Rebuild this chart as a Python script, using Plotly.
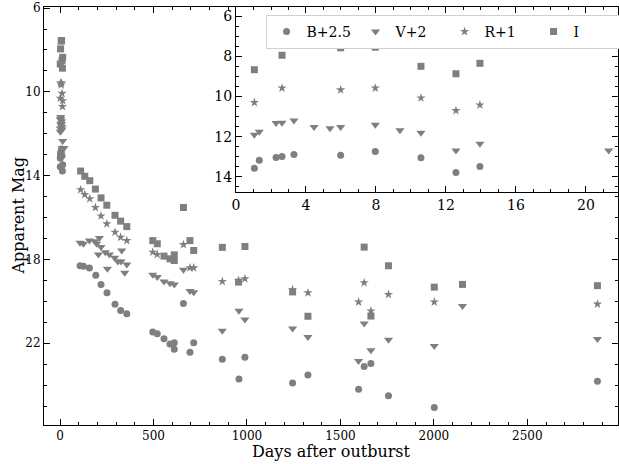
import plotly.graph_objects as go

# ---- data (days after outburst, apparent magnitude incl. offsets) ----
b_days = [1.05, 1.33, 2.29, 2.63, 3.31, 5.98, 7.96, 10.57, 12.57, 13.94,
          107, 125, 157, 191, 219, 251, 294, 324, 357, 496, 520, 556, 588, 611, 611,
          660, 695, 715, 868, 957, 989, 1244, 1326, 1597, 1627, 1663, 1757, 2002, 2875]
b_mags = [13.57, 13.17, 13.03, 12.98, 12.88, 12.92, 12.73, 13.05, 13.78, 13.48,
          18.30, 18.32, 18.41, 18.75, 19.19, 19.59, 20.14, 20.43, 20.59, 21.46, 21.54, 21.78, 22.03, 21.98, 22.29,
          20.10, 22.43, 21.98, 22.76, 23.71, 22.67, 23.90, 23.51, 24.19, 23.11, 22.97, 24.50, 25.06, 23.81]

v_days = [1.05, 1.33, 2.29, 2.63, 3.31, 4.46, 5.37, 5.98, 7.96, 9.37, 10.57, 12.57, 13.94, 21.3,
          107, 125, 157, 187, 196, 205, 210, 219, 242, 253, 264, 292, 309, 326, 330, 346, 357,
          496, 520, 556, 588, 611, 660, 695, 715, 868, 957, 989, 1244, 1326, 1597, 1627, 1663, 1757,
          2002, 2153, 2875]
v_mags = [11.90, 11.75, 11.32, 11.30, 11.20, 11.52, 11.58, 11.52, 11.40, 11.68, 11.80, 12.68, 12.35, 12.68,
          17.20, 17.25, 17.10, 17.13, 17.25, 17.76, 16.97, 17.41, 17.65, 18.44, 17.76, 17.92, 18.10, 18.10, 17.57, 18.63, 18.24,
          18.73, 18.84, 19.05, 19.13, 19.20, 18.49, 19.51, 19.57, 21.40, 20.45, 20.87, 21.29, 21.70, 22.84, 21.05, 22.33, 21.83,
          22.13, 20.22, 21.79]

r_days = [1.05, 2.63, 5.98, 7.96, 10.57, 12.57, 13.94,
          110, 132, 159, 189, 219, 250, 294, 324, 357, 496, 520, 660, 695, 715,
          868, 955, 989, 1244, 1326, 1597, 1627, 1663, 1757, 2002, 2875]
r_mags = [10.30, 9.58, 9.67, 9.58, 10.07, 10.70, 10.42,
          14.67, 14.90, 15.10, 15.52, 15.92, 16.30, 16.70, 16.94, 17.10, 17.65, 17.76, 17.29, 18.40, 18.40,
          19.05, 19.00, 18.92, 19.44, 19.59, 20.03, 19.11, 20.46, 19.67, 20.03, 20.13]

i_days = [1.05, 2.63, 5.98, 7.96, 10.57, 12.57, 13.94,
          110, 132, 159, 189, 219, 250, 294, 324, 357, 496, 520, 556, 588, 611, 611,
          660, 695, 715, 868, 955, 989, 1244, 1326, 1627, 1663, 1757, 2002, 2153, 2875]
i_mags = [8.67, 7.95, 7.58, 7.55, 8.50, 8.87, 8.35,
          13.78, 14.03, 14.24, 14.64, 15.06, 15.41, 15.89, 16.17, 16.43, 17.10, 17.25, 17.84, 17.97, 17.78, 18.05,
          15.52, 17.10, 17.57, 17.42, 19.08, 17.38, 19.55, 20.71, 17.41, 20.70, 18.30, 19.32, 19.19, 19.25]

series_names = ["B+2.5", "V+2", "R+1", "I"]
main_xticks = [0, 500, 1000, 1500, 2000, 2500]
main_yticks = [6, 10, 14, 18, 22]
inset_xticks = [0, 4, 8, 12, 16, 20]
inset_yticks = [6, 8, 10, 12, 14]
x_title = "Days after outburst"
y_title = "Apparent Mag"

COLOR = "#7f7f7f"
FONT = "DejaVu Serif"
symbols = ["circle", "triangle-down", "star", "square"]
sizes = [7, 8, 7, 7]
all_data = [(b_days, b_mags), (v_days, v_mags), (r_days, r_mags), (i_days, i_mags)]

fig = go.Figure()
for (d, m), name, sym, sz in zip(all_data, series_names, symbols, sizes):
    fig.add_trace(go.Scatter(x=d, y=m, mode="markers", name=name, showlegend=False,
                             marker=dict(symbol=sym, size=sz, color=COLOR, line=dict(width=0)),
                             xaxis="x", yaxis="y"))
for (d, m), name, sym, sz in zip(all_data, series_names, symbols, sizes):
    fig.add_trace(go.Scatter(x=d, y=m, mode="markers", name=name, showlegend=True,
                             marker=dict(symbol=sym, size=sz, color=COLOR, line=dict(width=0)),
                             xaxis="x2", yaxis="y2"))

axis_common = dict(showgrid=False, zeroline=False, showline=True, linecolor="black", linewidth=1,
                   mirror="ticks", ticks="inside", ticklen=6, tickwidth=1, tickcolor="black",
                   automargin=False)

fig.update_layout(
    width=619, height=464,
    margin=dict(l=44, r=1, t=7, b=39, autoexpand=False),
    paper_bgcolor="white", plot_bgcolor="white",
    font=dict(family=FONT, color="black"),
    xaxis=dict(domain=[0, 1], range=[-86, 2985], tickvals=main_xticks,
               tickfont=dict(size=12, family=FONT),
               minor=dict(ticks="inside", dtick=100, tick0=0, ticklen=3, tickcolor="black"),
               anchor="y", **axis_common),
    yaxis=dict(domain=[0, 1], range=[25.9, 5.95], tickvals=main_yticks,
               tickfont=dict(size=12, family=FONT),
               minor=dict(ticks="inside", dtick=1, tick0=6, ticklen=3, tickcolor="black"),
               anchor="x", **axis_common),
    xaxis2=dict(domain=[0.3345, 1], range=[0, 21.83], tickvals=inset_xticks,
                tickfont=dict(size=14, family=FONT),
                minor=dict(ticks="inside", dtick=1, tick0=0, ticklen=3, tickcolor="black"),
                anchor="y2", **axis_common),
    yaxis2=dict(domain=[0.5574, 1], range=[14.75, 5.55], tickvals=inset_yticks,
                tickfont=dict(size=14, family=FONT),
                minor=dict(ticks="inside", dtick=0.5, tick0=6, ticklen=3, tickcolor="black"),
                anchor="x2", **axis_common),
    legend=dict(orientation="h", x=0.386, y=0.981, xanchor="left", yanchor="top",
                xref="paper", yref="paper",
                bgcolor="white", bordercolor="#d0d0d0", borderwidth=1,
                font=dict(size=14, family=FONT), entrywidth=44, itemsizing="trace"),
)

fig.add_annotation(text=x_title, xref="paper", yref="paper", x=0.5, y=-0.063,
                   xanchor="center", yanchor="middle", showarrow=False,
                   font=dict(size=16, family=FONT, color="black"))
fig.add_annotation(text=y_title, xref="paper", yref="paper", x=-0.046, y=0.5,
                   xanchor="center", yanchor="middle", showarrow=False, textangle=-90,
                   font=dict(size=16, family=FONT, color="black"))

fig.write_html("out.html", config={"displayModeBar": False},
               post_script="document.body.style.margin='0';document.body.style.overflow='hidden';")
